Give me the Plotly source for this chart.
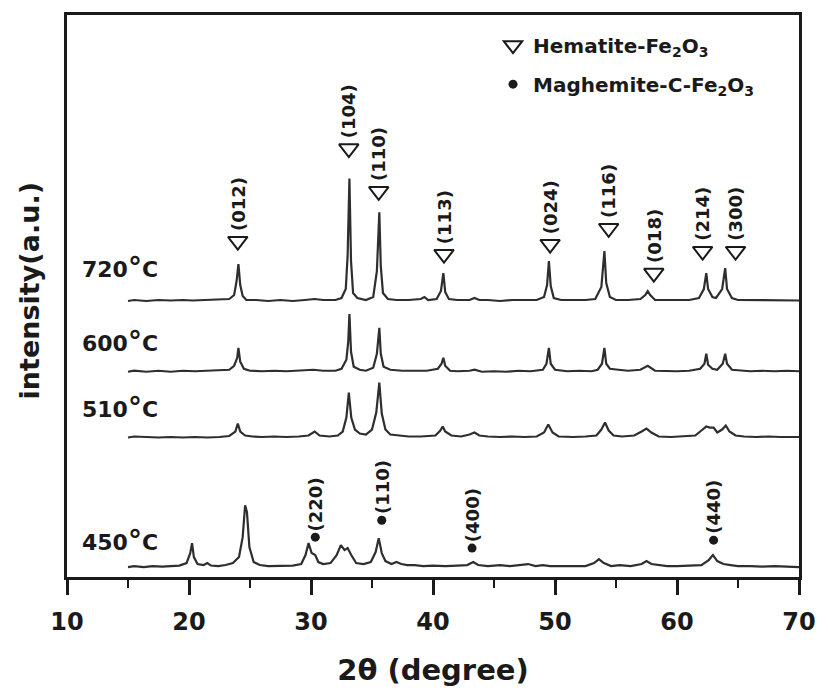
import plotly.graph_objects as go

# ---------------- data (2theta in degrees, intensity in a.u. above each baseline) ----------------
x720 = [15.0, 15.5, 16.5, 17.5, 18.5, 19.5, 20.3, 21.5, 22.5, 23.3, 23.7, 23.9, 24.05, 24.2, 24.4, 24.7,
        25.5, 26.5, 27.5, 28.5, 29.5, 30.3, 31.0, 32.0, 32.5, 32.85, 33.0, 33.15, 33.28, 33.45, 33.8,
        34.5, 35.1, 35.4, 35.6, 35.72, 35.9, 36.3, 37.0, 38.0, 39.0, 39.3, 39.6, 40.3, 40.65, 40.85,
        41.0, 41.3, 42.0, 43.0, 43.4, 43.8, 44.5, 45.5, 46.5, 47.5, 48.5, 49.1, 49.35, 49.5, 49.65,
        49.9, 50.5, 51.5, 52.5, 53.3, 53.8, 54.05, 54.2, 54.5, 55.0, 56.0, 57.0, 57.4, 57.6, 57.8,
        58.2, 59.0, 60.0, 61.0, 61.8, 62.2, 62.4, 62.55, 62.9, 63.2, 63.7, 63.95, 64.1, 64.5, 65.0,
        66.0, 67.0, 68.0, 69.0, 70.0]
y720 = [0, 1, 0, 1, 0.5, 1, 0.5, 1, 1, 2, 6, 20, 37, 16, 5, 1,
        1, 0, 1, 0, 1, 2, 1, 1, 3, 12, 45, 123, 40, 8, 3,
        1, 4, 30, 89, 35, 8, 2, 1, 1, 2, 4, 1, 2, 10, 28,
        9, 2, 1, 1, 3, 1, 1, 0, 1, 1, 1, 4, 16, 40, 15,
        3, 1, 1, 1, 2, 14, 50, 18, 4, 1, 1, 2, 6, 10, 6,
        1, 1, 1, 1, 3, 12, 28, 12, 4, 3, 12, 33, 12, 3, 1,
        1, 1, 1, 1, 0.5]

x600 = [15.0, 15.5, 16.5, 17.5, 18.5, 19.5, 20.5, 21.5, 22.5, 23.3, 23.7, 23.95, 24.05, 24.2, 24.5, 25.0,
        26.0, 27.0, 28.0, 29.0, 30.2, 31.0, 32.0, 32.5, 32.9, 33.05, 33.15, 33.28, 33.5, 34.0, 34.5,
        35.1, 35.4, 35.6, 35.72, 35.95, 36.5, 37.5, 38.5, 39.5, 40.4, 40.7, 40.85, 41.0, 41.4, 42.0,
        43.0, 43.4, 44.0, 45.0, 46.0, 47.0, 48.0, 49.0, 49.3, 49.5, 49.65, 50.0, 51.0, 52.0, 53.0,
        53.5, 53.85, 54.05, 54.2, 54.5, 55.2, 56.0, 57.0, 57.6, 58.2, 59.0, 60.0, 61.0, 61.9, 62.25,
        62.4, 62.55, 62.9, 63.3, 63.75, 63.95, 64.1, 64.5, 65.2, 66.0, 67.0, 68.0, 69.0, 70.0]
y600 = [0, 1, 0, 1, 0, 1, 0.5, 1, 1, 2, 6, 14, 24, 10, 3, 1,
        0.5, 1, 0.5, 1, 2, 1, 1, 3, 12, 30, 58, 20, 5, 2, 1,
        4, 18, 44, 18, 5, 2, 1, 1, 1, 3, 8, 14, 6, 1, 0.5,
        1, 2, 0, 0.5, 0, 1, 0.5, 2, 8, 24, 8, 2, 0.5, 1, 0.5,
        2, 8, 24, 8, 3, 2, 1, 2, 6, 1, 0.5, 0.5, 1, 3, 8,
        18, 7, 3, 2, 8, 18, 8, 2, 1, 0.5, 1, 0.5, 1, 0.5]

x510 = [15.0, 15.5, 16.5, 17.5, 18.5, 19.5, 20.5, 21.5, 22.5, 23.3, 23.8, 24.0, 24.2, 24.6, 25.2, 26.0,
        27.0, 28.0, 29.0, 29.8, 30.3, 30.7, 31.5, 32.2, 32.6, 32.9, 33.1, 33.3, 33.6, 34.0, 34.5,
        35.0, 35.35, 35.6, 35.8, 36.1, 36.5, 37.2, 38.0, 39.0, 40.2, 40.6, 40.8, 41.0, 41.5, 42.3,
        43.0, 43.4, 43.8, 44.5, 45.5, 46.5, 47.5, 48.5, 49.1, 49.45, 49.8, 50.3, 51.5, 52.5, 53.4,
        53.8, 54.1, 54.4, 54.8, 55.5, 56.5, 57.1, 57.5, 57.9, 58.5, 59.5, 60.5, 61.5, 62.0, 62.4,
        62.7, 63.0, 63.3, 63.7, 64.0, 64.3, 64.8, 65.5, 66.5, 67.5, 68.5, 69.5, 70.0]
y510 = [0, 1, 0.5, 0, 0.5, 0, 0.5, 0, 0.5, 1.5, 6, 14, 6, 2, 1, 0.5,
        1, 0.5, 1, 2, 6, 2, 1, 2, 6, 20, 45, 20, 8, 4, 3,
        8, 25, 55, 24, 8, 3, 2, 1, 1, 2, 7, 11, 6, 2, 1,
        3, 5, 2, 1, 0.5, 1, 0.5, 1, 5, 13, 5, 1, 0.5, 1, 2,
        8, 15, 7, 2, 1, 2, 6, 9, 5, 1, 0.5, 1, 2, 7, 11,
        10, 10, 5, 8, 12, 6, 2, 1, 0.5, 1, 0.5, 0.5, 0.5]

x450 = [15.0, 15.5, 16.3, 17.0, 17.8, 18.5, 19.2, 19.8, 20.1, 20.25, 20.4, 20.7, 21.2, 21.5, 21.8, 22.4,
        23.0, 23.6, 24.1, 24.4, 24.6, 24.75, 24.95, 25.3, 25.8, 26.5, 27.5, 28.5, 29.2, 29.55, 29.8,
        30.05, 30.35, 30.6, 31.0, 31.6, 32.1, 32.45, 32.75, 33.0, 33.3, 33.7, 34.3, 34.9, 35.3, 35.55,
        35.8, 36.1, 36.6, 37.0, 37.4, 37.9, 38.5, 39.2, 40.0, 41.0, 42.0, 42.8, 43.3, 43.7, 44.5,
        45.5, 46.3, 47.2, 47.8, 48.4, 49.0, 49.6, 50.5, 51.5, 52.5, 53.2, 53.6, 54.0, 54.6, 55.3,
        56.2, 57.1, 57.5, 57.9, 58.5, 59.2, 60.0, 61.0, 62.0, 62.6, 62.95, 63.3, 63.8, 64.4, 65.0,
        66.0, 67.0, 68.0, 69.0, 70.0]
y450 = [0, 1, 0, 1, 0.5, 1, 1.5, 4, 14, 24, 10, 3, 2, 4, 1.5, 1,
        2, 4, 10, 30, 62, 55, 20, 5, 2, 1, 1, 1.5, 3, 12, 24,
        14, 12, 5, 3, 4, 12, 22, 17, 19, 12, 4, 3, 5, 15, 29,
        14, 6, 3, 5, 3, 2, 2, 1, 1.5, 1, 1.5, 2, 5, 2, 1,
        2, 1, 2, 3, 1, 2, 1, 1, 1.5, 1, 4, 8, 4, 1, 2,
        1, 3, 6, 3, 2, 1, 1, 1.5, 2, 7, 12, 6, 3, 2, 1,
        1, 0.5, 1, 0.5, 0]

temperatures = ["720", "600", "510", "450"]
offsets = [277, 206, 140, 10]

# peak indexing (hematite on the 720 °C pattern, maghemite on the 450 °C pattern)
hem_hkl = ["(012)", "(104)", "(110)", "(113)", "(024)", "(116)", "(018)", "(214)", "(300)"]
hem_x = [24.0, 33.1, 35.55, 40.9, 49.6, 54.4, 58.1, 62.1, 64.8]
hem_y = [337, 430, 387, 324, 334, 350, 305, 327, 327]
mag_hkl = ["(220)", "(110)", "(400)", "(440)"]
mag_x = [30.35, 35.8, 43.2, 63.0]
mag_y = [40, 57, 29, 37]

x_ticks = [10, 20, 30, 40, 50, 60, 70]

# ---------------- figure ----------------
FONT = "DejaVu Sans"
INK = "#1a1a1a"
fig = go.Figure()

series = [(x720, y720), (x600, y600), (x510, y510), (x450, y450)]
for (xs, ys), off in zip(series, offsets):
    fig.add_trace(go.Scatter(x=xs, y=[v + off for v in ys], mode="lines",
                             line=dict(color="#2e2e2e", width=2.2), showlegend=False,
                             hoverinfo="skip"))

fig.add_trace(go.Scatter(x=hem_x, y=hem_y, mode="markers",
                         name="Hematite-Fe<sub>2</sub>O<sub>3</sub>",
                         marker=dict(symbol="triangle-down-open", size=17, color=INK,
                                     line=dict(width=2, color=INK)),
                         legendgroup="h"))
fig.add_trace(go.Scatter(x=mag_x, y=mag_y, mode="markers",
                         name="Maghemite-C-Fe<sub>2</sub>O<sub>3</sub>",
                         marker=dict(symbol="circle", size=9, color=INK),
                         legendgroup="m"))

ann = []
for t, xx, yy in zip(hem_hkl, hem_x, hem_y):
    ann.append(dict(x=xx, y=yy, xref="x", yref="y", text=t, textangle=-90, showarrow=False,
                    yanchor="bottom", xanchor="center", yshift=8,
                    font=dict(family=FONT, size=18, color=INK, weight="bold")))
for t, xx, yy in zip(mag_hkl, mag_x, mag_y):
    ann.append(dict(x=xx, y=yy, xref="x", yref="y", text=t, textangle=-90, showarrow=False,
                    yanchor="bottom", xanchor="center", yshift=4,
                    font=dict(family=FONT, size=18, color=INK, weight="bold")))

label_y = [311, 236, 170, 37]
for temp, ly in zip(temperatures, label_y):
    ann.append(dict(x=11.05, y=ly, xref="x", yref="y", xanchor="left", yanchor="middle",
                    text=temp + "<span style='font-size:28px'>°</span>C", showarrow=False,
                    font=dict(family=FONT, size=22, color=INK, weight="bold")))

ann.append(dict(x=-0.0513, y=0.509, xref="paper", yref="paper", text="intensity(a.u.)",
                textangle=-90, showarrow=False, xanchor="center", yanchor="middle",
                font=dict(family=FONT, size=27, color=INK, weight="bold")))

fig.update_layout(
    width=828, height=695,
    margin=dict(l=67, r=20, t=13, b=118),
    paper_bgcolor="white", plot_bgcolor="white",
    annotations=ann,
    legend=dict(x=0.582, y=0.981, xanchor="left", yanchor="top",
                font=dict(family=FONT, size=20, color=INK, weight="bold"),
                bgcolor="rgba(0,0,0,0)", traceorder="grouped", tracegroupgap=10),
    xaxis=dict(range=[10, 70], tickvals=x_ticks, ticktext=[str(v) for v in x_ticks],
               ticks="outside", ticklen=15, tickwidth=2.5, tickcolor=INK,
               minor=dict(dtick=5, tick0=10, ticks="outside", ticklen=8, tickwidth=2, tickcolor=INK),
               showline=True, linewidth=2.5, linecolor=INK, mirror=True,
               showgrid=False, zeroline=False, ticklabelstandoff=6,
               tickfont=dict(family=FONT, size=24, color=INK, weight="bold"),
               title=dict(text="2θ (degree)", standoff=26,
                          font=dict(family=FONT, size=29, color=INK, weight="bold"))),
    yaxis=dict(range=[0, 564], showticklabels=False, ticks="", showgrid=False, zeroline=False,
               showline=True, linewidth=2.5, linecolor=INK, mirror=True),
)

fig.write_html("out.html")
